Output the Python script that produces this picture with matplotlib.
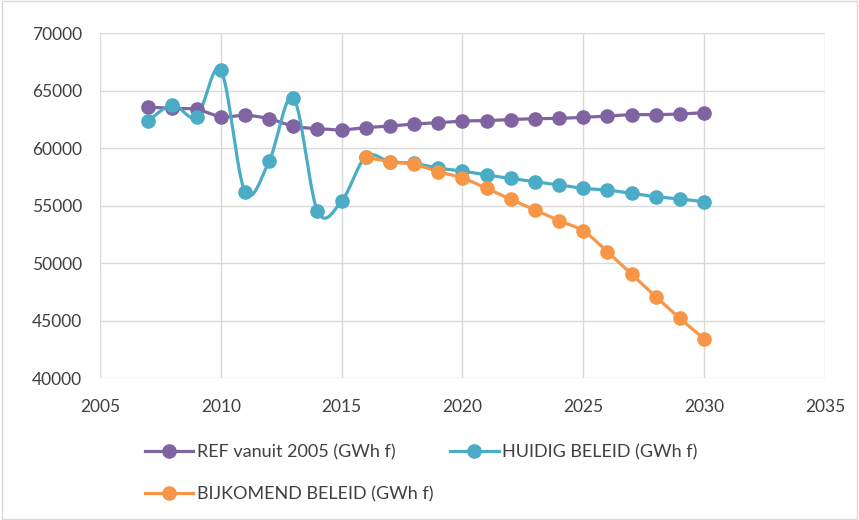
import numpy as np
import matplotlib
matplotlib.use('Agg')
import matplotlib.pyplot as plt
from matplotlib.lines import Line2D
from matplotlib.patches import Rectangle

plt.rcParams['font.family'] = ['Lato', 'DejaVu Sans']

# Data
years_ref = list(range(2007, 2031))
ref_2005 = [63550, 63450, 63370, 62720, 62840, 62550, 61900, 61680, 61580, 61780,
            61910, 62090, 62200, 62350, 62380, 62480, 62550, 62580, 62670, 62780,
            62900, 62900, 62960, 63070]

years_huidig = list(range(2007, 2031))
huidig = [62350, 63740, 62720, 66780, 56200, 58870, 64380, 54520, 55390, 59250,
          58800, 58670, 58250, 58000, 57650, 57360, 57070, 56800, 56490, 56350,
          56060, 55770, 55570, 55330]

years_bijk = list(range(2016, 2031))
bijkomend = [59190, 58810, 58580, 57940, 57400, 56490, 55540, 54610, 53680, 52780,
             50990, 49020, 47070, 45190, 43390]

labels = ['REF vanuit 2005 (GWh f)', 'HUIDIG BELEID (GWh f)', 'BIJKOMEND BELEID (GWh f)']
COLORS = ['#8064A2', '#4BACC6', '#F79646']


def smooth(x, y, n=30):
    """Excel-like smoothed line (Catmull-Rom as Bezier segments)"""
    p = np.column_stack([x, y]).astype(float)
    pts = np.vstack([p[0], p, p[-1]])
    t = np.linspace(0, 1, n)[:, None]
    out = []
    for i in range(1, len(pts) - 2):
        p0, p1, p2, p3 = pts[i - 1], pts[i], pts[i + 1], pts[i + 2]
        c1 = p1 + (p2 - p0) / 6
        c2 = p2 - (p3 - p1) / 6
        seg = ((1 - t) ** 3 * p1 + 3 * (1 - t) ** 2 * t * c1
               + 3 * (1 - t) * t ** 2 * c2 + t ** 3 * p2)
        out.append(seg if i == 1 else seg[1:])
    out = np.vstack(out)
    return out[:, 0], out[:, 1]


fig = plt.figure(figsize=(8.59, 5.2), dpi=100)
ax = fig.add_axes([0.1164, 0.273, 0.8440, 0.6635])

series = [(years_ref, ref_2005), (years_huidig, huidig), (years_bijk, bijkomend)]
for (xs, ys), c in zip(series, COLORS):
    sx, sy = smooth(xs, ys)
    ax.plot(sx, sy, color=c, lw=2.3, solid_capstyle='round', zorder=3)
    ax.plot(xs, ys, 'o', color=c, ms=9.5, zorder=4)

ax.set_xlim(2005, 2035)
ax.set_ylim(40000, 70000)
ax.set_xticks(range(2005, 2036, 5))
ax.set_yticks(range(40000, 70001, 5000))
ax.grid(True, color='#D9D9D9', lw=1)
ax.set_axisbelow(True)
for s in ax.spines.values():
    s.set_visible(False)
ax.tick_params(length=0, labelsize=12.5, colors='#404040')
ax.tick_params(axis='x', pad=15)
ax.tick_params(axis='y', pad=13)

handles = [Line2D([0], [0], color=c, lw=2.3, marker='o', ms=9.5) for c in COLORS]
order = [0, 2, 1]
fig.legend([handles[i] for i in order], [labels[i] for i in order],
           ncol=2, loc='upper left', bbox_to_anchor=(0.16, 0.16),
           frameon=False, fontsize=13, labelcolor='#404040',
           handlelength=2.7, handletextpad=0.2, columnspacing=0.9,
           labelspacing=1.45, borderaxespad=0)

fig.patches.append(Rectangle((0.002, 0.002), 0.996, 0.996, transform=fig.transFigure,
                             fill=False, edgecolor='#D9D9D9', lw=1))

fig.savefig('out.png', dpi=100, facecolor='white')
